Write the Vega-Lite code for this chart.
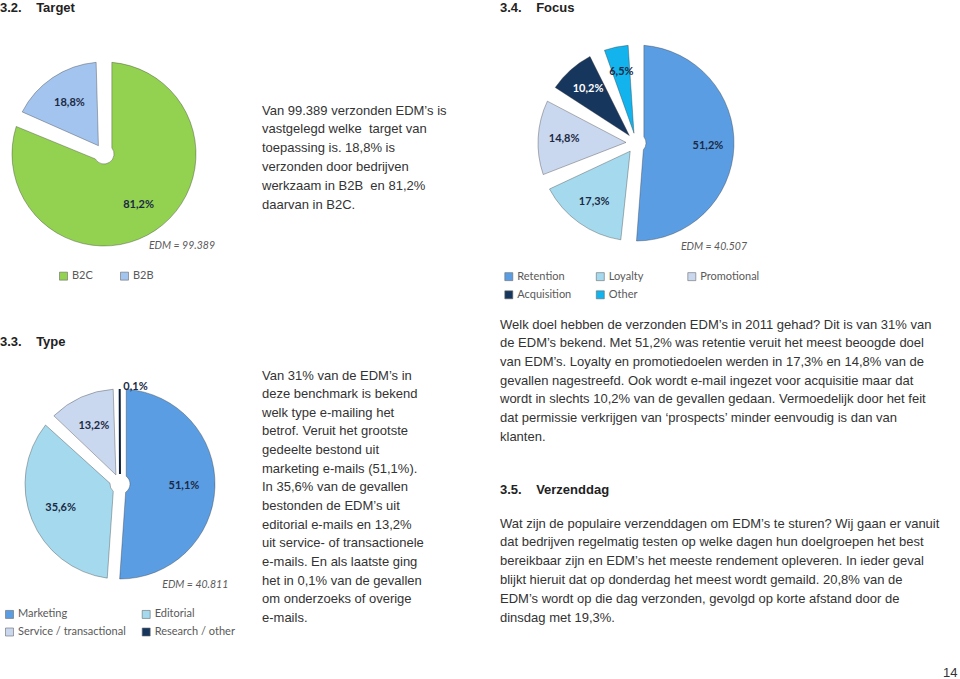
{
  "$schema": "https://vega.github.io/schema/vega-lite/v6.json",
  "padding": 0,
  "background": "white",
  "columns": 3,
  "spacing": 0,
  "bounds": "flush",
  "align": "each",
  "resolve": {"scale": {"color": "independent", "theta": "independent"}, "legend": {"color": "independent"}},
  "config": {"view": {"stroke": null}, "font": "Liberation Sans"},
  "concat": [
    {
      "width": 208,
      "height": 308,
      "layer": [
        {
          "data": {"values": [{"segment": "B2C", "value": 81.2}, {"segment": "B2B", "value": 18.8}]},
          "mark": {"type": "arc", "outerRadius": 92, "innerRadius": 10, "padAngle": 0.17, "stroke": "#2a2a2a", "strokeOpacity": 0.35, "strokeWidth": 1},
          "encoding": {
            "theta": {"field": "value", "type": "quantitative", "stack": true},
            "order": {"field": "value", "sort": "descending"},
            "color": {
              "field": "segment", "type": "nominal",
              "scale": {"domain": ["B2C", "B2B"], "range": ["#93d150", "#a3c4ee"]},
              "legend": {"title": null, "orient": "none", "legendX": 58, "legendY": 270.5, "direction": "horizontal", "columns": 2, "gridAlign": "all", "padding": 0, "symbolType": "square", "symbolSize": 64, "symbolStrokeColor": "#6a6a6a", "symbolStrokeWidth": 0.6, "labelFont": "Lato", "labelFontSize": 11, "labelColor": "#595959", "labelOffset": 3, "columnPadding": 26, "rowPadding": 6}
            }
          }
        },
        {
          "data": {"values": [{"segment": "B2C", "value": 81.2}, {"segment": "B2B", "value": 18.8}]},
          "transform": [{"calculate": "replace(format(datum.value, '.1f'), '.', ',') + '%'", "as": "label"}],
          "mark": {"type": "text", "radius": 62, "font": "Lato", "fontWeight": "bold", "fontSize": 11, "color": "#1b2a44"},
          "encoding": {
            "theta": {"field": "value", "type": "quantitative", "stack": true},
            "order": {"field": "value", "sort": "descending"},
            "text": {"field": "label"}
          }
        },
        {
          "data": {"values": [{"t": "3.2.\u00a0\u00a0\u00a0\u00a0Target"}]},
          "mark": {"type": "text", "align": "left", "baseline": "middle", "font": "Liberation Sans", "fontWeight": "bold", "fontSize": 13, "color": "#222222"},
          "encoding": {"text": {"field": "t"}, "x": {"value": 0}, "y": {"value": 7.5}}
        },
        {
          "data": {"values": [{"t": "EDM = 99.389"}]},
          "mark": {"type": "text", "align": "right", "baseline": "middle", "font": "Lato", "fontStyle": "italic", "fontSize": 10.5, "color": "#595959"},
          "encoding": {"text": {"field": "t"}, "x": {"value": 215}, "y": {"value": 245.7}}
        }
      ]
    },
    {
      "width": 260,
      "height": 308,
      "data": {"values": [{"t": "Van 99.389 verzonden EDM’s is\nvastgelegd welke\u00a0 target van\ntoepassing is. 18,8% is\nverzonden door bedrijven\nwerkzaam in B2B\u00a0 en 81,2%\ndaarvan in B2C."}]},
      "mark": {"type": "text", "align": "left", "baseline": "alphabetic", "lineBreak": "\n", "lineHeight": 18.8, "font": "Liberation Sans", "fontSize": 13, "color": "#333333"},
      "encoding": {"text": {"field": "t"}, "x": {"value": 22}, "y": {"value": 114.5}}
    },
    {
      "width": 272,
      "height": 286,
      "layer": [
        {
          "data": {"values": [{"goal": "Retention", "value": 51.2}, {"goal": "Loyalty", "value": 17.3}, {"goal": "Promotional", "value": 14.8}, {"goal": "Acquisition", "value": 10.2}, {"goal": "Other", "value": 6.5}]},
          "mark": {"type": "arc", "outerRadius": 98, "innerRadius": 10, "padAngle": 0.16, "stroke": "#2a2a2a", "strokeOpacity": 0.35, "strokeWidth": 1},
          "encoding": {
            "theta": {"field": "value", "type": "quantitative", "stack": true},
            "order": {"field": "value", "sort": "descending"},
            "color": {
              "field": "goal", "type": "nominal",
              "scale": {"domain": ["Retention", "Loyalty", "Promotional", "Acquisition", "Other"], "range": ["#5b9de3", "#a5daee", "#cad8ef", "#17365d", "#13b3ee"]},
              "legend": {"title": null, "orient": "none", "legendX": 3.3, "legendY": 271, "direction": "horizontal", "columns": 3, "gridAlign": "all", "padding": 0, "symbolType": "square", "symbolSize": 64, "symbolStrokeColor": "#6a6a6a", "symbolStrokeWidth": 0.6, "labelFont": "Lato", "labelFontSize": 11, "labelColor": "#595959", "labelOffset": 3, "columnPadding": 18.5, "rowPadding": 6.3}
            }
          }
        },
        {
          "data": {"values": [{"goal": "Retention", "value": 51.2}, {"goal": "Loyalty", "value": 17.3}, {"goal": "Promotional", "value": 14.8}, {"goal": "Acquisition", "value": 10.2}, {"goal": "Other", "value": 6.5}]},
          "transform": [{"calculate": "replace(format(datum.value, '.1f'), '.', ',') + '%'", "as": "label"}],
          "mark": {"type": "text", "radius": 72, "font": "Lato", "fontWeight": "bold", "fontSize": 11},
          "encoding": {
            "theta": {"field": "value", "type": "quantitative", "stack": true},
            "order": {"field": "value", "sort": "descending"},
            "text": {"field": "label"},
            "color": {"condition": {"test": "datum.goal === 'Acquisition'", "value": "#ffffff"}, "value": "#1b2a44"}
          }
        },
        {
          "data": {"values": [{"t": "3.4.\u00a0\u00a0\u00a0\u00a0Focus"}]},
          "mark": {"type": "text", "align": "left", "baseline": "middle", "font": "Liberation Sans", "fontWeight": "bold", "fontSize": 13, "color": "#222222"},
          "encoding": {"text": {"field": "t"}, "x": {"value": 0}, "y": {"value": 7.5}}
        },
        {
          "data": {"values": [{"t": "EDM = 40.507"}]},
          "mark": {"type": "text", "align": "right", "baseline": "middle", "font": "Lato", "fontStyle": "italic", "fontSize": 10.5, "color": "#595959"},
          "encoding": {"text": {"field": "t"}, "x": {"value": 247}, "y": {"value": 247.3}}
        }
      ]
    },
    {
      "width": 240,
      "height": 352,
      "layer": [
        {
          "data": {"values": [{"kind": "Marketing", "value": 51.1}, {"kind": "Editorial", "value": 35.6}, {"kind": "Service / transactional", "value": 13.2}, {"kind": "Research / other", "value": 0.1}]},
          "mark": {"type": "arc", "outerRadius": 95, "innerRadius": 10, "padAngle": 0.13},
          "encoding": {
            "theta": {"field": "value", "type": "quantitative", "stack": true},
            "order": {"field": "value", "sort": "descending"},
            "color": {
              "field": "kind", "type": "nominal",
              "scale": {"domain": ["Marketing", "Editorial", "Service / transactional", "Research / other"], "range": ["#5b9de3", "#a5daee", "#cad8ef", "#17365d"]},
              "legend": {"title": null, "orient": "none", "legendX": 4, "legendY": 300.8, "direction": "horizontal", "columns": 2, "gridAlign": "all", "padding": 0, "symbolType": "square", "symbolSize": 64, "symbolStrokeColor": "#6a6a6a", "symbolStrokeWidth": 0.6, "labelFont": "Lato", "labelFontSize": 11, "labelColor": "#595959", "labelOffset": 3, "columnPadding": 14.7, "rowPadding": 5.7}
            },
            "stroke": {"condition": {"test": "datum.value < 1", "value": "#0c1f3a"}, "value": "#2a2a2a"},
            "strokeOpacity": {"condition": {"test": "datum.value < 1", "value": 1}, "value": 0.35},
            "strokeWidth": {"condition": {"test": "datum.value < 1", "value": 2}, "value": 1}
          }
        },
        {
          "data": {"values": [{"kind": "Marketing", "value": 51.1}, {"kind": "Editorial", "value": 35.6}, {"kind": "Service / transactional", "value": 13.2}, {"kind": "Research / other", "value": 0.1}]},
          "transform": [{"filter": "datum.value >= 1"}, {"calculate": "replace(format(datum.value, '.1f'), '.', ',') + '%'", "as": "label"}],
          "mark": {"type": "text", "radius": 64, "font": "Lato", "fontWeight": "bold", "fontSize": 11, "color": "#1b2a44"},
          "encoding": {
            "theta": {"field": "value", "type": "quantitative", "stack": true},
            "order": {"field": "value", "sort": "descending"},
            "text": {"field": "label"}
          }
        },
        {
          "data": {"values": [{"kind": "Research / other", "value": 0.1}]},
          "transform": [{"calculate": "replace(format(datum.value, '.1f'), '.', ',') + '%'", "as": "label"}],
          "mark": {"type": "text", "radius": 97, "align": "left", "dx": 3, "font": "Lato", "fontWeight": "bold", "fontSize": 11, "color": "#1b2a44"},
          "encoding": {
            "theta": {"field": "value", "type": "quantitative", "stack": true},
            "text": {"field": "label"}
          }
        },
        {
          "data": {"values": [{"t": "3.3.\u00a0\u00a0\u00a0\u00a0Type"}]},
          "mark": {"type": "text", "align": "left", "baseline": "middle", "font": "Liberation Sans", "fontWeight": "bold", "fontSize": 13, "color": "#222222"},
          "encoding": {"text": {"field": "t"}, "x": {"value": 0}, "y": {"value": 34.3}}
        },
        {
          "data": {"values": [{"t": "EDM = 40.811"}]},
          "mark": {"type": "text", "align": "right", "baseline": "middle", "font": "Lato", "fontStyle": "italic", "fontSize": 10.5, "color": "#595959"},
          "encoding": {"text": {"field": "t"}, "x": {"value": 228.3}, "y": {"value": 277}}
        }
      ]
    },
    {
      "width": 260,
      "height": 352,
      "data": {"values": [{"t": "Van 31% van de EDM’s in\ndeze benchmark is bekend\nwelk type e-mailing het\nbetrof. Veruit het grootste\ngedeelte bestond uit\nmarketing e-mails (51,1%).\nIn 35,6% van de gevallen\nbestonden de EDM’s uit\neditorial e-mails en 13,2%\nuit service- of transactionele\ne-mails. En als laatste ging\nhet in 0,1% van de gevallen\nom onderzoeks of overige\ne-mails."}]},
      "mark": {"type": "text", "align": "left", "baseline": "alphabetic", "lineBreak": "\n", "lineHeight": 18.65, "font": "Liberation Sans", "fontSize": 13, "color": "#333333"},
      "encoding": {"text": {"field": "t"}, "x": {"value": 22}, "y": {"value": 71.5}}
    },
    {
      "width": 460,
      "height": 371,
      "layer": [
        {
          "data": {"values": [{"t": "Welk doel hebben de verzonden EDM’s in 2011 gehad? Dit is van 31% van\nde EDM’s bekend. Met 51,2% was retentie veruit het meest beoogde doel\nvan EDM’s. Loyalty en promotiedoelen werden in 17,3% en 14,8% van de\ngevallen nagestreefd. Ook wordt e-mail ingezet voor acquisitie maar dat\nwordt in slechts 10,2% van de gevallen gedaan. Vermoedelijk door het feit\ndat permissie verkrijgen van ‘prospects’ minder eenvoudig is dan van\nklanten."}]},
          "mark": {"type": "text", "align": "left", "baseline": "alphabetic", "lineBreak": "\n", "lineHeight": 18.7, "font": "Liberation Sans", "fontSize": 13, "color": "#333333"},
          "encoding": {"text": {"field": "t"}, "x": {"value": 0}, "y": {"value": 20.5}}
        },
        {
          "data": {"values": [{"t": "3.5.\u00a0\u00a0\u00a0\u00a0Verzenddag"}]},
          "mark": {"type": "text", "align": "left", "baseline": "middle", "font": "Liberation Sans", "fontWeight": "bold", "fontSize": 13, "color": "#222222"},
          "encoding": {"text": {"field": "t"}, "x": {"value": 0}, "y": {"value": 182}}
        },
        {
          "data": {"values": [{"t": "Wat zijn de populaire verzenddagen om EDM’s te sturen? Wij gaan er vanuit\ndat bedrijven regelmatig testen op welke dagen hun doelgroepen het best\nbereikbaar zijn en EDM’s het meeste rendement opleveren. In ieder geval\nblijkt hieruit dat op donderdag het meest wordt gemaild. 20,8% van de\nEDM’s wordt op die dag verzonden, gevolgd op korte afstand door de\ndinsdag met 19,3%."}]},
          "mark": {"type": "text", "align": "left", "baseline": "alphabetic", "lineBreak": "\n", "lineHeight": 18.8, "font": "Liberation Sans", "fontSize": 13, "color": "#333333"},
          "encoding": {"text": {"field": "t"}, "x": {"value": 0}, "y": {"value": 219.5}}
        },
        {
          "data": {"values": [{"t": "14"}]},
          "mark": {"type": "text", "align": "right", "baseline": "middle", "font": "Liberation Sans", "fontSize": 13, "color": "#333333"},
          "encoding": {"text": {"field": "t"}, "x": {"value": 457.5}, "y": {"value": 365}}
        }
      ]
    }
  ]
}
